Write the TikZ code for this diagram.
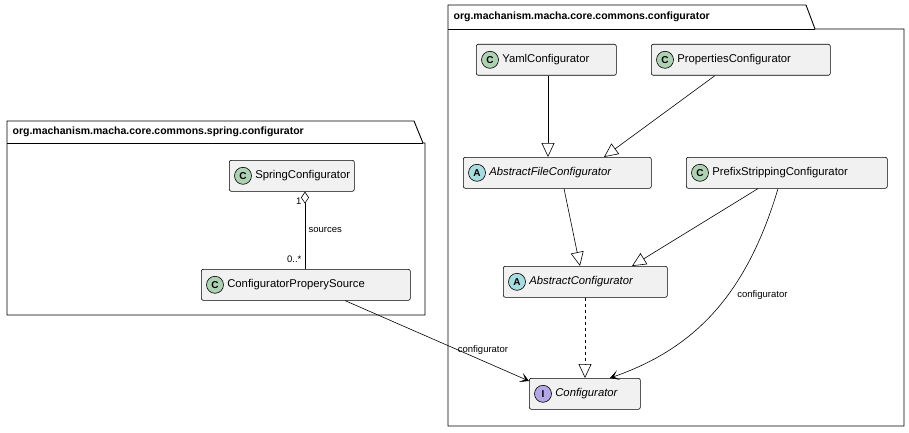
\documentclass[tikz,border=0pt]{standalone}
\usepackage{fontspec}
\setmainfont{Liberation Sans}
\usetikzlibrary{arrows.meta,positioning,calc}
\definecolor{clsfill}{HTML}{F1F1F1}
\definecolor{cgreen}{HTML}{ADD1B2}
\definecolor{acyan}{HTML}{A9DCDF}
\definecolor{ipurple}{HTML}{B4A7E5}
\tikzset{
  cls/.style={draw, fill=clsfill, rounded corners=2pt, minimum height=31pt, anchor=north west,
    minimum width=#1pt, text width=#1pt-8pt, inner xsep=4pt, align=left,
    font=\fontsize{11.3}{13}\selectfont},
  icon/.style={draw, circle, inner sep=0pt, minimum size=17pt, font=\bfseries\fontsize{10}{11}\selectfont},
  pkg/.style={draw, fill=white, line width=0.9pt},
  tab/.style={font=\bfseries\fontsize{10.5}{12}\selectfont},
  lbl/.style={font=\fontsize{9.5}{11}\selectfont},
  inherit/.style={-{Triangle[open,length=14pt,width=13pt]}},
  assoc/.style={-{Stealth[length=9pt,width=10pt,inset=5pt]}},
}
\begin{document}
\begin{tikzpicture}[x=1pt,y=-1pt,line width=0.6pt]
\useasboundingbox (0,0) rectangle (909,433);
%packages
\draw[pkg] (7,143) -- (7,121) -- (414,121) -- (423,143) -- (425,143) -- (425,315) -- (7,315) -- cycle;
\draw (7,143) -- (423,143);
\node[tab, anchor=west] (springpkg) at (9,132) {org.machanism.macha.core.commons.spring.configurator};
\draw[pkg] (448,29) -- (448,5) -- (806,5) -- (815,29) -- (904,29) -- (904,426) -- (448,426) -- cycle;
\draw (448,29) -- (815,29);
\node[tab, anchor=west] (confpkg) at (450,17) {org.machanism.macha.core.commons.configurator};
%classes
\node[cls=125] (spring) at (229,160) {\hspace*{22pt}SpringConfigurator};
\node[cls=209] (source) at (201,269) {\hspace*{22pt}ConfiguratorProperySource};
\node[cls=140] (yaml) at (476,44) {\hspace*{22pt}YamlConfigurator};
\node[cls=179] (props) at (651,44) {\hspace*{22pt}PropertiesConfigurator};
\node[cls=188] (absfile) at (463,157) {\hspace*{22pt}\textit{AbstractFileConfigurator}};
\node[cls=201] (prefix) at (686,157) {\hspace*{22pt}PrefixStrippingConfigurator};
\node[cls=164] (abscfg) at (503,266) {\hspace*{22pt}\textit{AbstractConfigurator}};
\node[cls=111] (iface) at (529,378) {\hspace*{22pt}\textit{Configurator}};
%icons
\foreach \n/\l/\c in {spring/C/cgreen, source/C/cgreen, yaml/C/cgreen, props/C/cgreen,
    prefix/C/cgreen, absfile/A/acyan, abscfg/A/acyan, iface/I/ipurple}
  \node[icon, fill=\c] (\n-icon) at ([xshift=14pt]\n.west) {\l};
%relations
\draw[{Diamond[open,length=12pt,width=8pt]}-] (spring.south -| 305,0) -- (source.north -| 305,0)
  node[lbl, pos=0.12, left] {1} node[lbl, pos=0.5, right] {sources} node[lbl, pos=0.88, left] {0..*};
\draw[inherit] (yaml.south -| 548,0) -- (absfile.north -| 548,0);
\draw[inherit] (props.south -| 715,0) -- (absfile.north -| 604,0);
\draw[inherit] (absfile.south -| 564,0) -- (abscfg.north -| 580,0);
\draw[inherit] (prefix.south -| 758,0) -- (abscfg.north -| 632,0);
\draw[inherit, dashed] (abscfg.south -| 585,0) -- (iface.north -| 585,0);
\draw[assoc] (prefix.south -| 778,0) .. controls (745,300) and (690,350) .. (iface.north -| 610,0)
  node[lbl, pos=0.4, right=6pt] {configurator};
\draw[assoc] (source.south -| 345,0) -- (iface.west |- 0,381)
  node[lbl, pos=0.75, above=3pt] {configurator};
\end{tikzpicture}
\end{document}
